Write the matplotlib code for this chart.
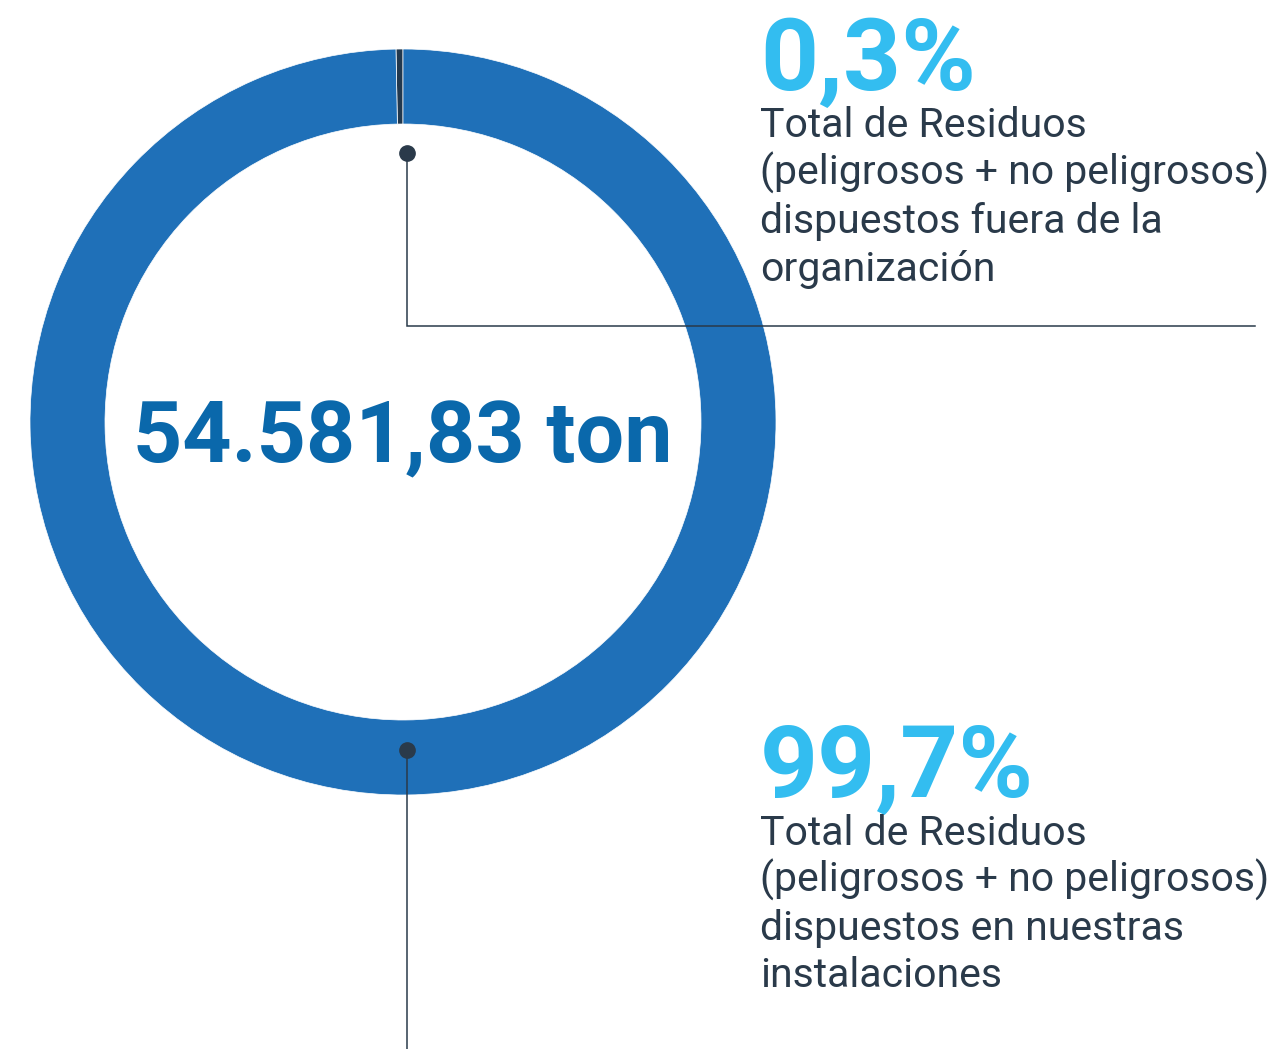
import matplotlib
matplotlib.use('Agg')
import matplotlib.pyplot as plt

# waste disposal split (percent of total)
labels = ['Fuera de la organización', 'En nuestras instalaciones']
shares = [0.3, 99.7]
total_label = '54.581,83 ton'
pct_labels = ['0,3%', '99,7%']
desc_lines = [
    ['Total de Residuos', '(peligrosos + no peligrosos)', 'dispuestos fuera de la', 'organización'],
    ['Total de Residuos', '(peligrosos + no peligrosos)', 'dispuestos en nuestras', 'instalaciones'],
]

W, H = 1281, 1049
RING = '#1f70b8'
DARK = '#22384d'
CENTER_TXT = '#0a68ab'
CYAN = '#33bdf0'
BODY = '#2a3a4a'

plt.rcParams['font.family'] = ['Roboto', 'DejaVu Sans']

fig = plt.figure(figsize=(W / 100, H / 100), dpi=100)
ax = fig.add_axes([0, 0, 1, 1])

def py(y):
    # pixel row (top origin) -> data y
    return H - y

cx, cy, r_out, ring_w = 403, py(422), 373, 75
ax.pie(shares, colors=[DARK, RING], startangle=90, counterclock=True,
       center=(cx, cy), radius=r_out,
       wedgeprops=dict(width=ring_w, edgecolor='white', linewidth=0.5))
ax.set_xlim(0, W)
ax.set_ylim(0, H)
ax.set_aspect('equal')
ax.axis('off')

ax.text(cx, py(462), total_label, ha='center', va='baseline',
        fontsize=62, fontweight='bold', color=CENTER_TXT)

# leader lines and dots
lx = 407
ax.plot([lx, lx, 1255], [py(153), py(326), py(326)], color=BODY, lw=1.1,
        solid_joinstyle='miter')
ax.plot([lx, lx], [py(750), py(1049)], color=BODY, lw=1.1)
ax.plot([lx, lx], [py(153), py(750)], 'o', ms=11, color=BODY, ls='none')

# annotation blocks
tx = 760
blocks = [(90, [137, 185, 233, 281]), (797, [845, 892, 940, 987])]
for (pb, lines_y), pct, lines in zip(blocks, pct_labels, desc_lines):
    ax.text(tx, py(pb), pct, ha='left', va='baseline', fontsize=73,
            fontweight='bold', color=CYAN)
    for yb, s in zip(lines_y, lines):
        ax.text(tx, py(yb), s, ha='left', va='baseline', fontsize=29.5,
                fontweight='normal', color=BODY)

fig.savefig('out.png', dpi=100, facecolor='white')
